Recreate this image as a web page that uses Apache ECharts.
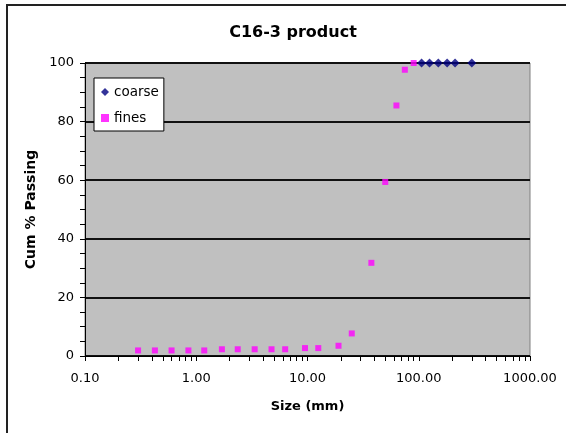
<!DOCTYPE html>
<html><head><meta charset="utf-8">
<script src="https://cdn.jsdelivr.net/npm/echarts@6/dist/echarts.min.js"></script>
<style>html,body{margin:0;padding:0;background:#fff}#c{width:566px;height:433px}</style>
</head><body><div id="c"></div>
<script>
const titleText = 'C16-3 product';
const xAxisTitle = 'Size (mm)';
const yAxisTitle = 'Cum % Passing';
const xLabelValues = [0.1, 1, 10, 100, 1000];
const xTickSteps = [1, 2, 3, 4, 5, 6, 7, 8, 9];
const yTicks = [0, 20, 40, 60, 80, 100];
const coarseSize = [106, 125, 150, 180, 212, 300];
const coarsePassing = [100, 100, 100, 100, 100, 100];
const finesSize = [0.3, 0.425, 0.6, 0.85, 1.18, 1.7, 2.36, 3.35, 4.75, 6.3, 9.5, 12.5, 19, 25, 37.5, 50, 63, 75, 90];
const finesPassing = [1.9, 1.9, 1.9, 1.9, 1.9, 2.3, 2.3, 2.3, 2.3, 2.3, 2.7, 2.7, 3.5, 7.7, 31.8, 59.4, 85.5, 97.7, 100];

const xTickValues = [];
xLabelValues.slice(0, -1).forEach(d => xTickSteps.forEach(s => xTickValues.push(+(d * s).toPrecision(3))));
xTickValues.push(xLabelValues[xLabelValues.length - 1]);

const FONT = '"DejaVu Sans", sans-serif';
const chart = echarts.init(document.getElementById('c'), null, {renderer: 'canvas'});
chart.setOption({
  animation: false,
  backgroundColor: '#fff',
  title: {text: titleText, left: 288, top: 20, textAlign: 'center',
    textStyle: {fontFamily: FONT, fontSize: 16, fontWeight: 'bold', color: '#000'}},
  graphic: [{type: 'rect', shape: {x: 7, y: 5, width: 700, height: 600},
    style: {fill: null, stroke: '#222', lineWidth: 2}, silent: true, z: 100}],
  grid: {left: 85, right: 36, top: 63, bottom: 77, show: true,
    backgroundColor: '#C0C0C0', borderColor: '#808080', borderWidth: 1},
  legend: {
    orient: 'vertical', left: 94, top: 78,
    backgroundColor: '#fff', borderColor: '#000', borderWidth: 1,
    padding: [7, 5, 6, 7], itemWidth: 8, itemHeight: 8, itemGap: 12,
    textStyle: {fontFamily: FONT, fontSize: 13.5, color: '#000'},
    data: ['coarse', 'fines']
  },
  xAxis: {
    type: 'log', logBase: 10, min: xLabelValues[0], max: xLabelValues[xLabelValues.length - 1],
    name: xAxisTitle, nameLocation: 'middle', nameGap: 44,
    nameTextStyle: {fontFamily: FONT, fontSize: 13, fontWeight: 'bold', color: '#000'},
    axisLine: {lineStyle: {color: '#000', width: 1}},
    axisTick: {show: true, length: 5, customValues: xTickValues, lineStyle: {color: '#000'}},
    axisLabel: {customValues: xLabelValues, formatter: v => (+v).toFixed(2), margin: 16,
      fontFamily: FONT, fontSize: 13, color: '#000'},
    splitLine: {show: false}
  },
  yAxis: {
    type: 'value', min: yTicks[0], max: yTicks[yTicks.length - 1], interval: 20,
    name: yAxisTitle, nameLocation: 'middle', nameGap: 45,
    nameTextStyle: {fontFamily: FONT, fontSize: 14, fontWeight: 'bold', color: '#000'},
    axisLine: {show: true, lineStyle: {color: '#000', width: 1}},
    axisTick: {show: true, length: 5, lineStyle: {color: '#000'}},
    minorTick: {show: true, splitNumber: 4, length: 5, lineStyle: {color: '#000'}},
    axisLabel: {margin: 11, fontFamily: FONT, fontSize: 13, color: '#000'},
    splitLine: {show: true, lineStyle: {color: '#111', width: 2}}
  },
  series: [
    {name: 'coarse', type: 'scatter', symbol: 'diamond', symbolSize: 9, clip: false,
      itemStyle: {color: '#000080'}, data: coarseSize.map((s, i) => [s, coarsePassing[i]])},
    {name: 'fines', type: 'scatter', symbol: 'rect', symbolSize: 6, clip: false,
      itemStyle: {color: '#FF00FF'}, data: finesSize.map((s, i) => [s, finesPassing[i]])}
  ]
});
</script></body></html>
